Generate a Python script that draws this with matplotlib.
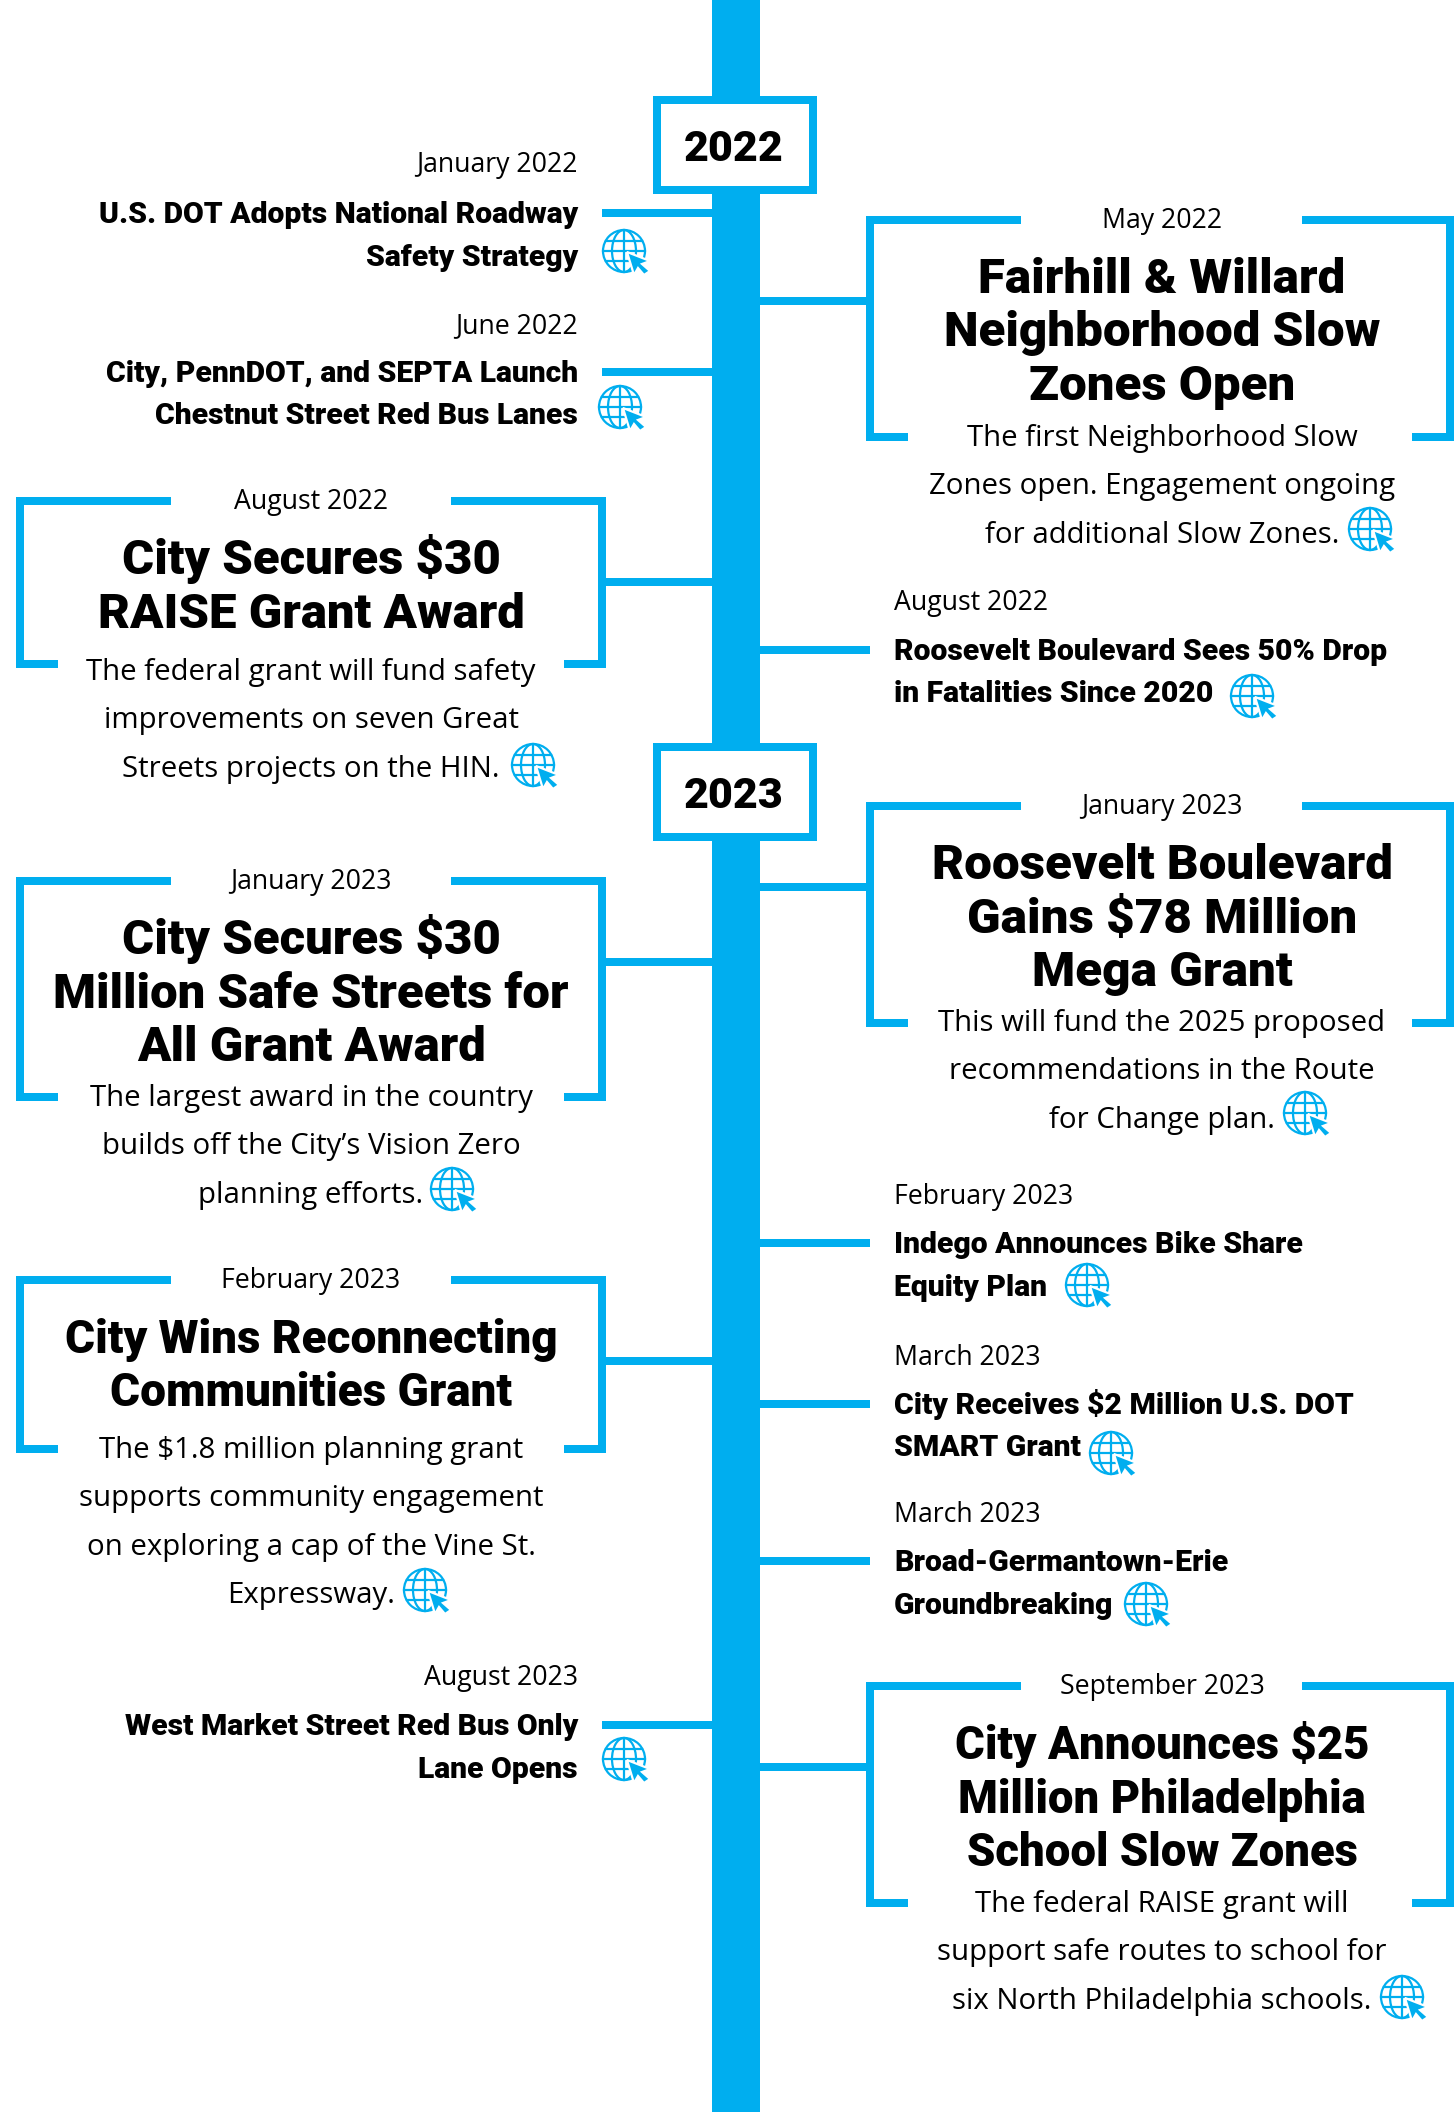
import matplotlib
matplotlib.use("Agg")
import matplotlib.pyplot as plt
from matplotlib.patches import Circle, Ellipse, Polygon, Rectangle

BLUE = "#00AEEF"
BODY_FONT = "Open Sans"
HEAD_FONT = "Roboto"

years = ["2022", "2023"]

card_sides = ["R", "L", "L", "L", "R", "R"]
card_dates = ["May 2022", "August 2022", "January 2023", "February 2023", "January 2023", "September 2023"]
card_titles = [
    ["Fairhill & Willard", "Neighborhood Slow", "Zones Open"],
    ["City Secures $30", "RAISE Grant Award"],
    ["City Secures $30", "Million Safe Streets for", "All Grant Award"],
    ["City Wins Reconnecting", "Communities Grant"],
    ["Roosevelt Boulevard", "Gains $78 Million", "Mega Grant"],
    ["City Announces $25", "Million Philadelphia", "School Slow Zones"],
]
card_bodies = [
    ["The first Neighborhood Slow", "Zones open. Engagement ongoing", "for additional Slow Zones."],
    ["The federal grant will fund safety", "improvements on seven Great", "Streets projects on the HIN."],
    ["The largest award in the country", "builds off the City\u2019s Vision Zero", "planning efforts."],
    ["The $1.8 million planning grant", "supports community engagement", "on exploring a cap of the Vine St.", "Expressway."],
    ["This will fund the 2025 proposed", "recommendations in the Route", "for Change plan."],
    ["The federal RAISE grant will", "support safe routes to school for", "six North Philadelphia schools."],
]

item_sides = ["L", "L", "L", "R", "R", "R", "R"]
item_dates = ["January 2022", "June 2022", "August 2023", "August 2022", "February 2023", "March 2023", "March 2023"]
item_titles = [
    ["U.S. DOT Adopts National Roadway", "Safety Strategy"],
    ["City, PennDOT, and SEPTA Launch", "Chestnut Street Red Bus Lanes"],
    ["West Market Street Red Bus Only", "Lane Opens"],
    ["Roosevelt Boulevard Sees 50% Drop", "in Fatalities Since 2020"],
    ["Indego Announces Bike Share", "Equity Plan"],
    ["City Receives $2 Million U.S. DOT", "SMART Grant"],
    ["Broad-Germantown-Erie", "Groundbreaking"],
]

# layout, in pixels of the full picture
year_tops = [96, 743]
card_tops = [220, 501, 881, 1280, 806, 1686]
card_bottoms = [437, 664, 1097, 1449, 1023, 1903]
card_stems = [301, 582, 962, 1361, 887, 1767]
card_body_tops = [437, 671, 1097, 1449, 1022, 1903]
card_globes = [(1370, 529), (533, 765), (452, 1189), (425, 1590), (1305, 1113), (1402, 1997)]
card_title_sizes = [35.5, 35.4, 35.4, 33, 35.6, 32.8]

item_stems = [213, 372, 1725, 650, 1243, 1404, 1561]
item_dates_y = [163, 324, 1676, 601, 1195, 1356, 1513]
item_globes = [(624, 251), (620, 407), (624, 1759), (1252, 696), (1087, 1285), (1111, 1453), (1146, 1604)]

fig = plt.figure(figsize=(14.54, 21.12), dpi=100)
ax = fig.add_axes([0, 0, 1, 1])
ax.set_xlim(0, 1454)
ax.set_ylim(2112, 0)
ax.axis("off")


def bar(x0, x1, y, h=8):
    ax.add_patch(Rectangle((x0, y - h / 2), x1 - x0, h, fc=BLUE, ec="none", zorder=1))


def globe(cx, cy):
    r = 21
    kw = dict(fc="none", ec=BLUE, lw=1.6, zorder=4)
    ax.add_patch(Circle((cx, cy), r, **kw))
    ax.add_patch(Ellipse((cx, cy), 24, 2 * r, **kw))
    ax.plot([cx, cx], [cy - r, cy + r], color=BLUE, lw=1.6, zorder=4)
    ax.plot([cx - r, cx + r], [cy, cy], color=BLUE, lw=1.6, zorder=4)
    for dy in (-10, 10):
        ax.plot([cx - 18, cx + 18], [cy + dy, cy + dy], color=BLUE, lw=1.6, zorder=4)
    cursor = [(3, 1), (26, 10), (18, 13), (26, 20), (20, 24), (14, 17), (10, 24)]
    ax.add_patch(Polygon([(cx + a, cy + b) for a, b in cursor], fc=BLUE, ec="white", lw=1.6, zorder=5))


# spine and year boxes
ax.add_patch(Rectangle((712, 0), 48, 2112, fc=BLUE, ec="none", zorder=1))
for year, top in zip(years, year_tops):
    ax.add_patch(Rectangle((653, top), 164, 98, fc=BLUE, ec="none", zorder=2))
    ax.add_patch(Rectangle((661, top + 8), 148, 82, fc="white", ec="none", zorder=3))
    ax.text(734, top + 65, year, family=HEAD_FONT, weight="black", size=31, ha="center", va="baseline", zorder=4)

# large cards
for side, date, title, body, top, bottom, stem, body_top, g, tsize in zip(
    card_sides, card_dates, card_titles, card_bodies, card_tops, card_bottoms,
    card_stems, card_body_tops, card_globes, card_title_sizes,
):
    if side == "L":
        x0, x1, g0, g1, cx = 20, 602, 171, 451, 311
        bar(602, 712, stem)
    else:
        x0, x1, g0, g1, cx = 870, 1450, 1021, 1302, 1162
        bar(760, 870, stem)
    line = dict(color=BLUE, lw=5.76, solid_capstyle="butt", solid_joinstyle="miter", zorder=1)
    ax.plot([g0, x0, x0, x0 + 38], [top, top, bottom, bottom], **line)
    ax.plot([g1, x1, x1, x1 - 38], [top, top, bottom, bottom], **line)
    ax.text(cx, top + 8, date, family=BODY_FONT, size=19.2, ha="center", va="baseline")
    for i, txt in enumerate(title):
        ax.text(cx, top + 73 + i * 53.5, txt, family=HEAD_FONT, weight="black", size=tsize, ha="center", va="baseline")
    for i, txt in enumerate(body):
        ax.text(cx, body_top + 9 + i * 48.3, txt, family=BODY_FONT, size=21.2, ha="center", va="baseline")
    globe(*g)

# small items
for side, date, title, stem, date_y, g in zip(
    item_sides, item_dates, item_titles, item_stems, item_dates_y, item_globes
):
    if side == "L":
        x, ha = 578, "right"
        bar(602, 712, stem)
    else:
        x, ha = 894, "left"
        bar(760, 870, stem)
    ax.text(x, date_y + 9, date, family=BODY_FONT, size=19.2, ha=ha, va="baseline")
    for i, txt in enumerate(title):
        ax.text(x, stem + 10 + i * 42.5, txt, family=HEAD_FONT, weight="black", size=21.7, ha=ha, va="baseline")
    globe(*g)

fig.savefig("out.png", dpi=100)
